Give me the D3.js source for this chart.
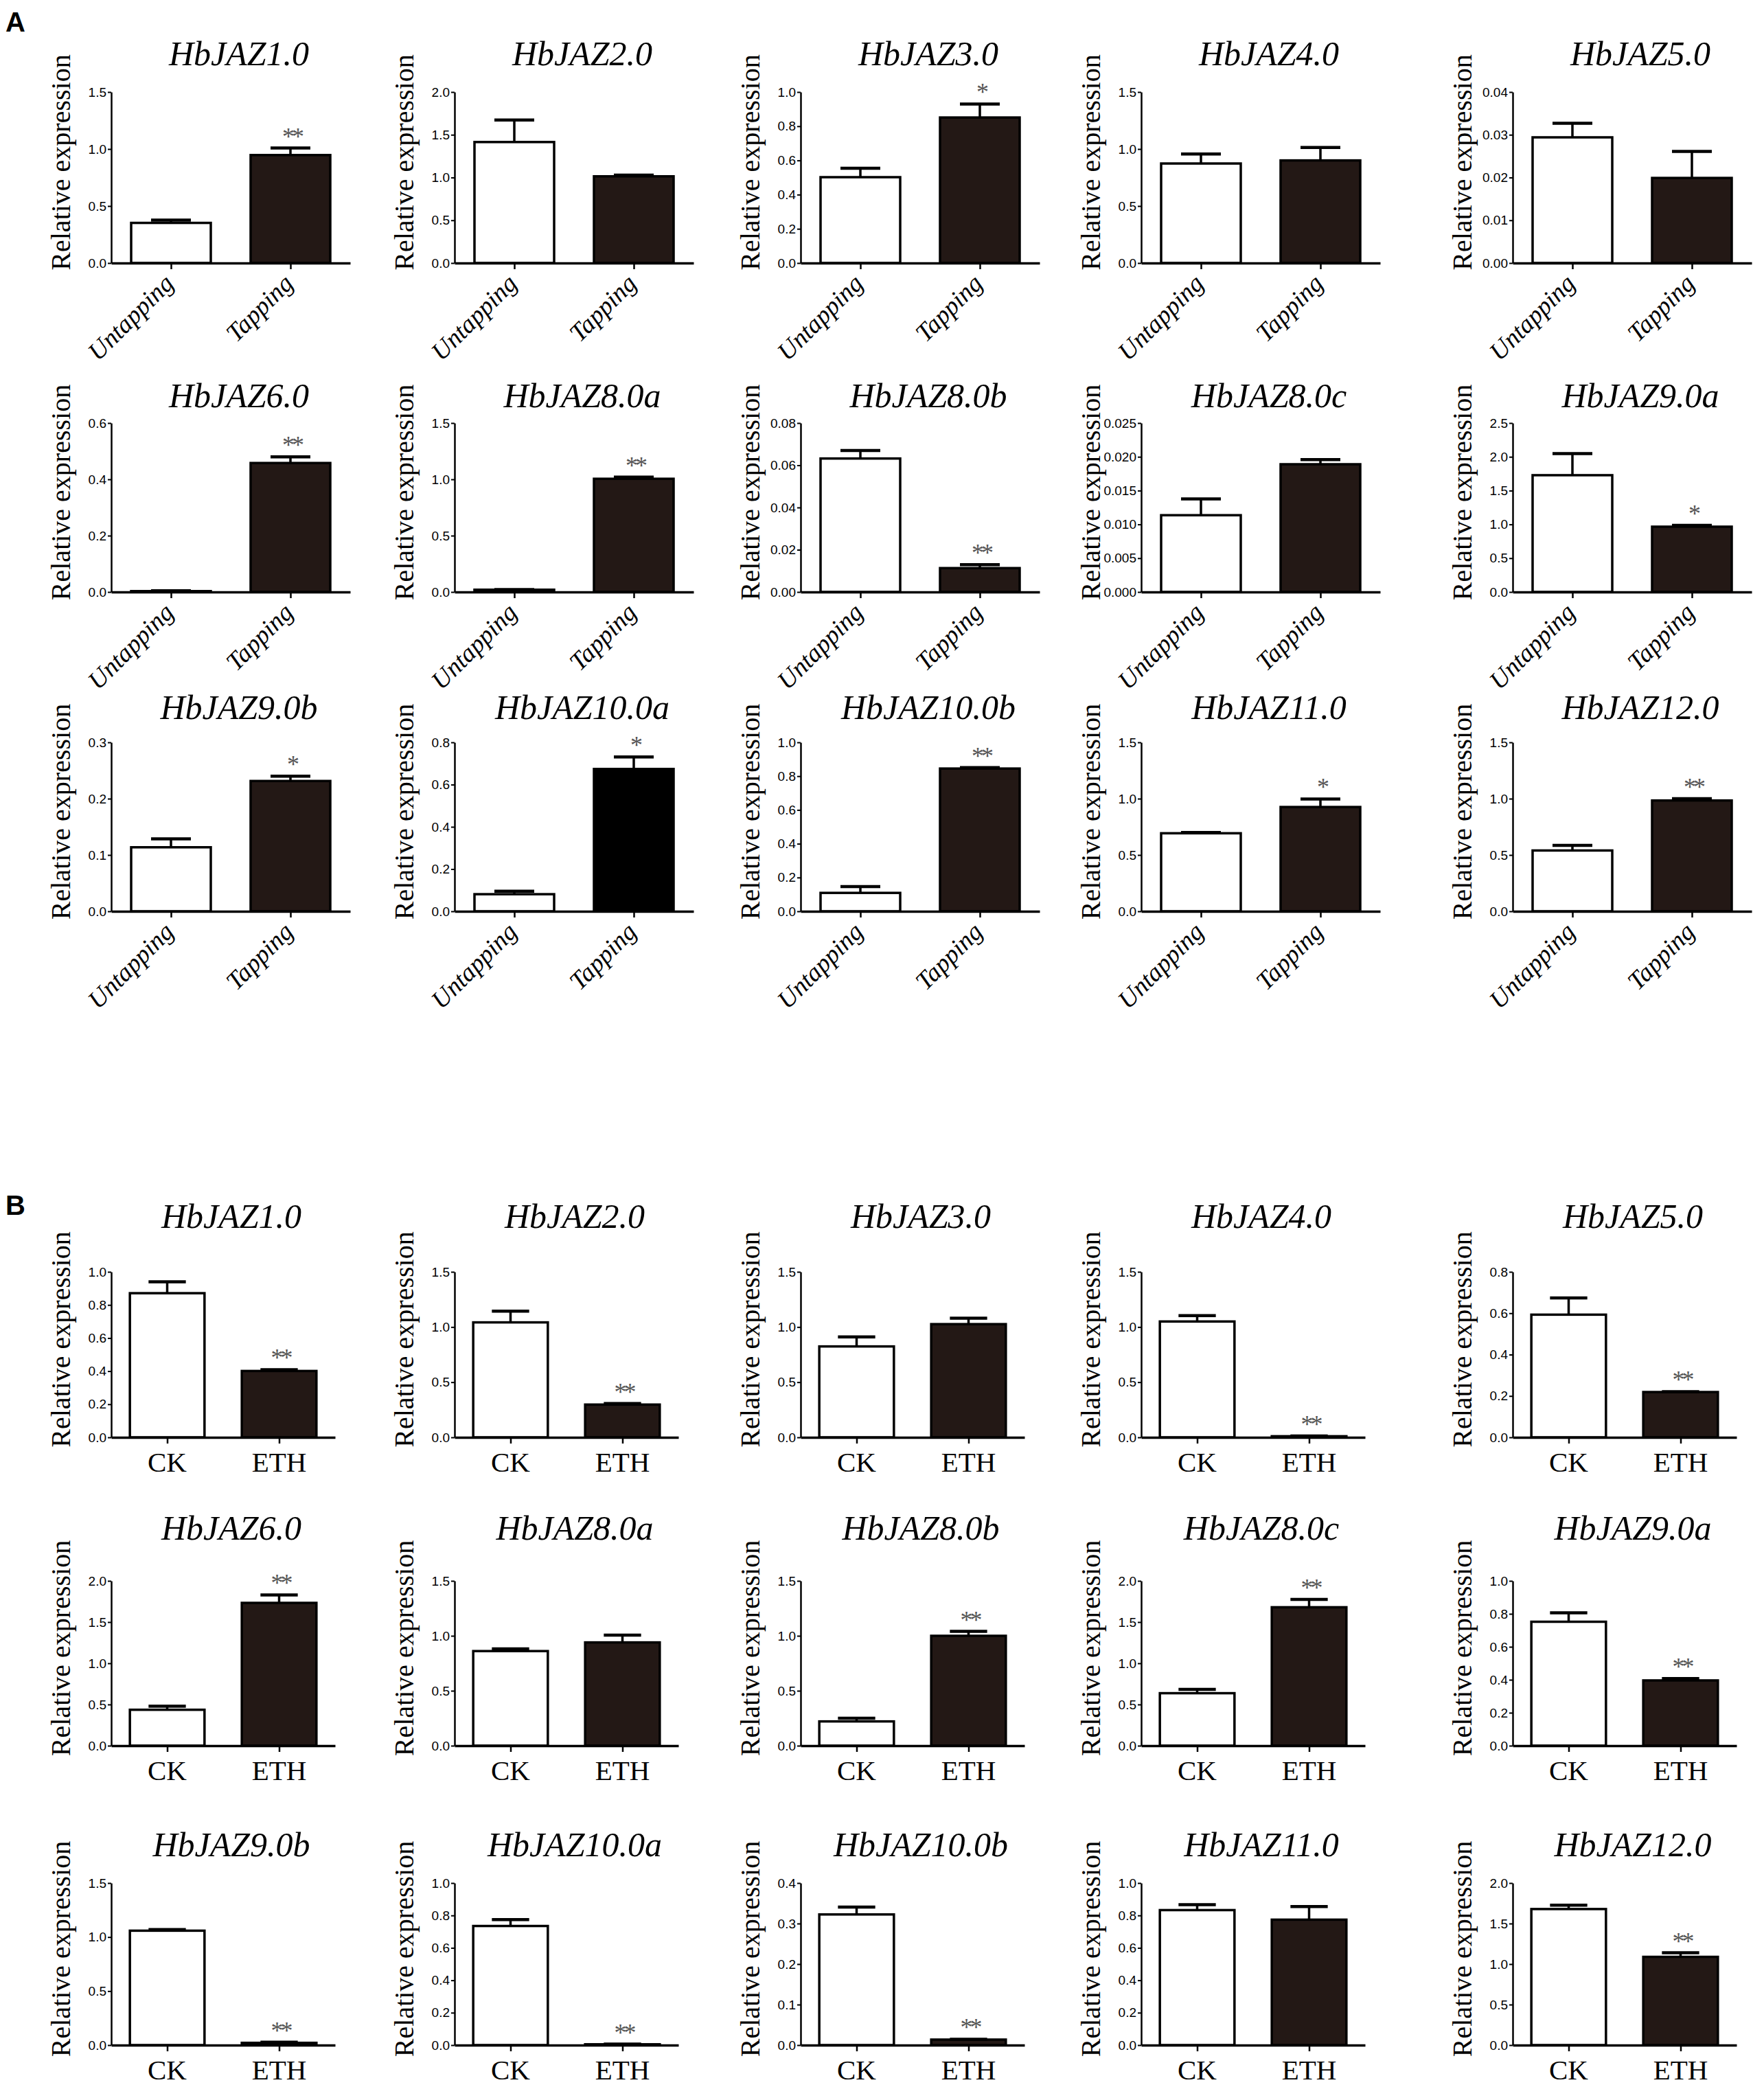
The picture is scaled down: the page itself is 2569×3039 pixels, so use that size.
<!DOCTYPE html>
<html>
<head>
<meta charset="utf-8">
<script src="https://cdn.jsdelivr.net/npm/d3@7"></script>
<style>
  body { margin: 0; background: #fff; }
  svg { display: block; }
</style>
</head>
<body>
<script>
// genes shown in both panels, in reading order
const genes = ["HbJAZ1.0", "HbJAZ2.0", "HbJAZ3.0", "HbJAZ4.0", "HbJAZ5.0",
  "HbJAZ6.0", "HbJAZ8.0a", "HbJAZ8.0b", "HbJAZ8.0c", "HbJAZ9.0a",
  "HbJAZ9.0b", "HbJAZ10.0a", "HbJAZ10.0b", "HbJAZ11.0", "HbJAZ12.0"];

// panel A: tapping
const tapGroups = ["Untapping", "Tapping"];
const tapMean = [[0.352, 0.947], [1.415, 1.014], [0.502, 0.851], [0.873, 0.900], [0.0294, 0.0199],
  [0.003, 0.458], [0.02, 1.005], [0.0632, 0.0113], [0.01136, 0.0189], [1.728, 0.966],
  [0.1137, 0.2314], [0.081, 0.674], [0.109, 0.845], [0.693, 0.926], [0.540, 0.984]];
const tapErr = [[0.025, 0.062], [0.257, 0.014], [0.052, 0.079], [0.084, 0.113], [0.0033, 0.0062],
  [0.001, 0.022], [0.002, 0.015], [0.0038, 0.0016], [0.0024, 0.0007], [0.32, 0.02],
  [0.015, 0.0086], [0.014, 0.057], [0.037, 0.006], [0.007, 0.071], [0.045, 0.016]];
const tapSig = ["**", "", "*", "", "", "**", "**", "**", "", "*", "*", "*", "**", "*", "**"];
const tapYMax = [1.5, 2.0, 1.0, 1.5, 0.04, 0.6, 1.5, 0.08, 0.025, 2.5, 0.3, 0.8, 1.0, 1.5, 1.5];
const tapYStep = [0.5, 0.5, 0.2, 0.5, 0.01, 0.2, 0.5, 0.02, 0.005, 0.5, 0.1, 0.2, 0.2, 0.5, 0.5];

// panel B: ethylene
const ethGroups = ["CK", "ETH"];
const ethMean = [[0.871, 0.401], [1.042, 0.297], [0.824, 1.026], [1.05, 0.01], [0.593, 0.219],
  [0.436, 1.733], [0.861, 0.94], [0.221, 1.0], [0.637, 1.68], [0.752, 0.396],
  [1.059, 0.021], [0.735, 0.005], [0.3225, 0.0136], [0.833, 0.774], [1.679, 1.089]];
const ethErr = [[0.069, 0.008], [0.101, 0.010], [0.087, 0.054], [0.053, 0.002], [0.081, 0.002],
  [0.044, 0.097], [0.021, 0.066], [0.029, 0.04], [0.046, 0.096], [0.054, 0.011],
  [0.011, 0.006], [0.039, 0.001], [0.018, 0.001], [0.034, 0.081], [0.047, 0.05]];
const ethSig = ["**", "**", "", "**", "**", "**", "", "**", "**", "**", "**", "**", "**", "", "**"];
const ethYMax = [1.0, 1.5, 1.5, 1.5, 0.8, 2.0, 1.5, 1.5, 2.0, 1.0, 1.5, 1.0, 0.4, 1.0, 2.0];
const ethYStep = [0.2, 0.5, 0.5, 0.5, 0.2, 0.5, 0.5, 0.5, 0.5, 0.2, 0.5, 0.2, 0.1, 0.2, 0.5];

const W = 2569, H = 3039;
const dark = "#231815";
const serif = "'Liberation Serif', 'Times New Roman', serif";
const sans = "'Liberation Sans', Arial, sans-serif";

const colX = [162, 662, 1166, 1662, 2203];
// rows: axis top, baseline, title baseline
const rowsA = [{top: 134, base: 383, title: 95}, {top: 616, base: 862, title: 593}, {top: 1081, base: 1327, title: 1047}];
const rowsB = [{top: 1852, base: 2093, title: 1788}, {top: 2302, base: 2542, title: 2242}, {top: 2742, base: 2978, title: 2703}];

const svg = d3.select("body").append("svg")
  .attr("width", W)
  .attr("height", H);

svg.append("rect").attr("width", W).attr("height", H).attr("fill", "#fff");

svg.append("text").attr("x", 8).attr("y", 46).text("A")
  .attr("font-family", sans).attr("font-weight", "bold").attr("font-size", 40);
svg.append("text").attr("x", 8).attr("y", 1769).text("B")
  .attr("font-family", sans).attr("font-weight", "bold").attr("font-size", 40);

function drawPanel(i, opt) {
  const row = opt.rows[Math.floor(i / 5)];
  const x0 = colX[i % 5];
  const w = opt.width;
  const g = svg.append("g").attr("transform", `translate(${x0},0)`);

  const x = d3.scalePoint().domain(opt.groups).range([0, w]).padding(0.5);
  const bw = w / 3;
  const y = d3.scaleLinear().domain([0, opt.yMax[i]]).range([row.base, row.top]);
  const step = opt.yStep[i];
  const ticks = d3.range(0, opt.yMax[i] + step / 2, step);
  const fmt = d3.format(`.${d3.precisionFixed(step)}f`);

  // title
  g.append("text")
    .attr("x", w / 2 + 12).attr("y", row.title)
    .attr("text-anchor", "middle")
    .attr("font-family", serif).attr("font-style", "italic").attr("font-size", 50)
    .text(genes[i]);

  // y label
  const ym = (row.top + row.base) / 2 - 22;
  g.append("text")
    .attr("transform", `translate(-60,${ym}) rotate(-90)`)
    .attr("text-anchor", "middle")
    .attr("font-family", serif).attr("font-size", 40)
    .text("Relative expression");

  // bars
  const data = opt.groups.map((k, j) => ({k, v: opt.mean[i][j], e: opt.err[i][j], j}));
  g.selectAll("rect.bar").data(data).enter().append("rect")
    .attr("class", "bar")
    .attr("x", d => x(d.k) - bw / 2)
    .attr("width", bw)
    .attr("y", d => y(d.v))
    .attr("height", d => row.base - y(d.v))
    .attr("fill", d => d.j === 0 ? "#fff" : (opt.black && opt.black(i) ? "#000" : dark))
    .attr("stroke", "#000")
    .attr("stroke-width", 3.5);

  // error bars (upper only)
  const eb = g.selectAll("g.err").data(data.filter(d => d.e > 0)).enter().append("g")
    .attr("stroke", "#000").attr("stroke-width", 3.5);
  eb.append("line")
    .attr("x1", d => x(d.k)).attr("x2", d => x(d.k))
    .attr("y1", d => y(d.v)).attr("y2", d => y(d.v + d.e));
  eb.append("line")
    .attr("x1", d => x(d.k) - bw / 4).attr("x2", d => x(d.k) + bw / 4)
    .attr("y1", d => y(d.v + d.e)).attr("y2", d => y(d.v + d.e))
    .attr("stroke-width", 4.5);

  // significance
  if (opt.sig[i]) {
    const d = data[1];
    g.append("text")
      .attr("x", x(d.k) + 2).attr("y", y(d.v + d.e) - 5)
      .attr("text-anchor", "middle")
      .attr("font-family", serif).attr("font-size", 36)
      .attr("letter-spacing", -4)
      .attr("fill", "#555")
      .text(opt.sig[i]);
  }

  // y axis
  const ya = g.append("g")
    .call(d3.axisLeft(y).tickValues(ticks).tickFormat(fmt).tickSize(5).tickSizeOuter(0));
  ya.select(".domain").attr("stroke-width", 2.5);
  ya.selectAll(".tick line").attr("stroke-width", 2);
  ya.selectAll(".tick text")
    .attr("font-family", sans).attr("font-size", 19).attr("x", -7);

  // x axis
  const xa = g.append("g").attr("transform", `translate(0,${row.base})`)
    .call(d3.axisBottom(x).tickSize(9).tickSizeOuter(0).tickFormat(""));
  xa.select(".domain").attr("stroke-width", 3.5);
  xa.selectAll(".tick line").attr("stroke-width", 2.5);

  if (opt.rotate) {
    g.selectAll("text.xl").data(opt.groups).enter().append("text")
      .attr("class", "xl")
      .attr("transform", d => `translate(${x(d) + 6},${row.base + 32}) rotate(-45)`)
      .attr("text-anchor", "end")
      .attr("font-family", serif).attr("font-style", "italic").attr("font-size", 37)
      .text(d => d);
  } else {
    g.selectAll("text.xl").data(opt.groups).enter().append("text")
      .attr("class", "xl")
      .attr("x", d => x(d)).attr("y", row.base + 50)
      .attr("text-anchor", "middle")
      .attr("font-family", serif).attr("font-size", 41)
      .text(d => d);
  }
}

const optA = {rows: rowsA, width: 348, groups: tapGroups, mean: tapMean, err: tapErr,
  sig: tapSig, yMax: tapYMax, yStep: tapYStep, rotate: true, black: i => i === 11};
const optB = {rows: rowsB, width: 326, groups: ethGroups, mean: ethMean, err: ethErr,
  sig: ethSig, yMax: ethYMax, yStep: ethYStep, rotate: false};

genes.forEach((gname, i) => drawPanel(i, optA));
genes.forEach((gname, i) => drawPanel(i, optB));
</script>
</body>
</html>
